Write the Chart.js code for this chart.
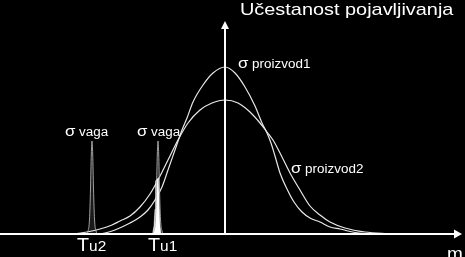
<!DOCTYPE html>
<html>
<head>
<meta charset="utf-8">
<script src="https://cdn.jsdelivr.net/npm/chart.js@4"></script>
<style>
    html, body { margin: 0; padding: 0; background: #000; }
    #wrap { width: 465px; height: 257px; position: relative; }
</style>
</head>
<body>
<div id="wrap"><canvas id="freqChart"></canvas></div>
<script>
// masa (x) i ucestanost (y), ocitano sa slike
const proizvod1X = [95, 105, 115, 130, 140, 148, 155, 162, 168, 175, 182, 187, 193, 203, 213, 225, 235, 245, 255, 262, 267, 271, 275, 280, 287, 294, 302, 310, 320, 330, 340, 355, 370];
const proizvod1Y = [0, 1, 4, 11, 17, 24, 34, 47, 64, 84, 104, 116, 132, 149, 161, 167, 161, 147, 128, 111, 101, 91, 78, 61, 45, 32, 22, 16, 12, 7, 5, 1.5, 0];

const proizvod2X = [75, 87, 100, 112, 120, 130, 140, 150, 158, 168, 178, 188, 200, 212, 225, 238, 250, 260, 267, 273, 282, 290, 300, 310, 320, 330, 345, 365, 385, 400];
const proizvod2Y = [0, 2, 5, 9, 13, 18, 27, 40, 54, 74, 94, 111, 124, 131, 134, 131, 122, 111, 102, 94, 77, 61, 44, 28, 19, 12, 6, 2, 0.5, 0];

const vagaTu2X = [86, 88, 89.5, 90.5, 91.3, 92, 92.7, 93.5, 94.5, 96, 98];
const vagaTu1X = [152, 154, 155.5, 156.5, 157.3, 158, 158.7, 159.5, 160.5, 162, 164];
const vagaY = [0, 3, 15, 45, 80, 93, 80, 45, 15, 3, 0];

// dio vage Tu1 ispod krive proizvoda
const overlapX = [152.5, 154, 155, 155.6, 157, 158.5, 159.2, 160, 161];
const overlapY = [0, 8, 25, 53, 55, 56, 30, 8, 0];

const meanMass = 225;      // vertikalna osa
const axisEndX = 462;      // vrh strelice na x osi
const axisTopY = 213;      // vrh strelice na y osi

const toPoints = (xs, ys) => xs.map((x, i) => ({ x, y: ys[i] }));

const FONT = '"Liberation Sans", Arial, sans-serif';

// tekstovi: pozicije u jedinicama skala
const labels = [
    { x: 240, y: 219, sx: 1.17, runs: [{ t: 'Učestanost pojavljivanja', size: 17 }] },
    { x: 238, y: 166, sx: 1.12, runs: [{ t: 'σ', size: 15 }, { t: ' proizvod1', size: 12 }] },
    { x: 291, y: 61, sx: 1.12, runs: [{ t: 'σ', size: 15 }, { t: ' proizvod2', size: 12 }] },
    { x: 65, y: 98, sx: 1.12, runs: [{ t: 'σ', size: 15 }, { t: ' vaga', size: 12 }] },
    { x: 137, y: 98, sx: 1.12, runs: [{ t: 'σ', size: 15 }, { t: ' vaga', size: 12 }] },
    { x: 77, y: -17, sx: 1.1, runs: [{ t: 'T', size: 18 }, { t: 'u2', size: 14 }] },
    { x: 148, y: -17, sx: 1.1, runs: [{ t: 'T', size: 18 }, { t: 'u1', size: 14 }] },
    { x: 447, y: -26, sx: 1, runs: [{ t: 'm', size: 19 }] }
];

const axesPlugin = {
    id: 'axes',
    afterDatasetsDraw(chart) {
        const { ctx, scales: { x, y } } = chart;
        const x0 = x.getPixelForValue(0);
        const xc = x.getPixelForValue(meanMass);
        const xe = x.getPixelForValue(axisEndX);
        const y0 = y.getPixelForValue(0);
        const yt = y.getPixelForValue(axisTopY);
        ctx.save();
        ctx.strokeStyle = '#fff';
        ctx.fillStyle = '#fff';
        ctx.lineWidth = 2;
        ctx.beginPath();
        ctx.moveTo(x0, y0);
        ctx.lineTo(xe - 6, y0);
        ctx.moveTo(xc, y0);
        ctx.lineTo(xc, yt + 6);
        ctx.stroke();
        // strelice
        ctx.beginPath();
        ctx.moveTo(xe, y0);
        ctx.lineTo(xe - 8, y0 - 4.5);
        ctx.lineTo(xe - 8, y0 + 4.5);
        ctx.closePath();
        ctx.fill();
        ctx.beginPath();
        ctx.moveTo(xc, yt);
        ctx.lineTo(xc - 4, yt + 8);
        ctx.lineTo(xc + 4, yt + 8);
        ctx.closePath();
        ctx.fill();
        ctx.restore();
    }
};

const textPlugin = {
    id: 'texts',
    afterDraw(chart) {
        const { ctx, scales: { x, y } } = chart;
        ctx.save();
        ctx.fillStyle = '#fff';
        ctx.textBaseline = 'alphabetic';
        labels.forEach(l => {
            let px = x.getPixelForValue(l.x);
            const py = y.getPixelForValue(l.y);
            l.runs.forEach(r => {
                ctx.font = r.size + 'px ' + FONT;
                ctx.save();
                ctx.translate(px, py);
                ctx.scale(l.sx, 1);
                ctx.fillText(r.t, 0, 0);
                ctx.restore();
                px += ctx.measureText(r.t).width * l.sx;
            });
        });
        ctx.restore();
    }
};

const curveStyle = {
    borderColor: '#e8e8e8',
    borderWidth: 1.2,
    pointRadius: 0,
    fill: false,
    cubicInterpolationMode: 'monotone',
    clip: false
};

const spikeStyle = {
    borderColor: 'rgba(175,175,175,0.9)',
    backgroundColor: 'rgba(255,255,255,0.1)',
    borderWidth: 1,
    pointRadius: 0,
    fill: 'origin',
    cubicInterpolationMode: 'monotone',
    clip: false
};

new Chart(document.getElementById('freqChart'), {
    type: 'line',
    data: {
        datasets: [
            { label: 'σ vaga Tu2', data: toPoints(vagaTu2X, vagaY), ...spikeStyle },
            { label: 'σ vaga Tu1', data: toPoints(vagaTu1X, vagaY), ...spikeStyle },
            {
                label: 'preklapanje',
                data: toPoints(overlapX, overlapY),
                borderColor: '#fff',
                backgroundColor: '#fff',
                borderWidth: 0.5,
                pointRadius: 0,
                fill: 'origin',
                tension: 0,
                clip: false
            },
            { label: 'σ proizvod1', data: toPoints(proizvod1X, proizvod1Y), ...curveStyle },
            { label: 'σ proizvod2', data: toPoints(proizvod2X, proizvod2Y), ...curveStyle }
        ]
    },
    options: {
        responsive: true,
        maintainAspectRatio: false,
        animation: false,
        layout: { padding: { top: 0, left: 0, right: 0, bottom: 23 } },
        scales: {
            x: { type: 'linear', min: 0, max: 465, display: false },
            y: { min: 0, max: 234, display: false }
        },
        plugins: {
            legend: { display: false },
            tooltip: { enabled: false }
        }
    },
    plugins: [axesPlugin, textPlugin]
});
</script>
</body>
</html>
